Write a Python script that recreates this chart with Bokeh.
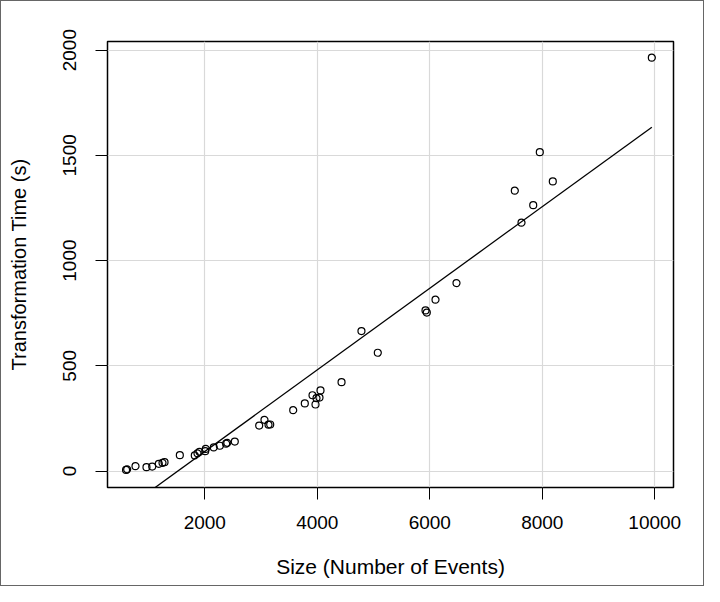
from bokeh.plotting import figure
from bokeh.models import Range1d, FixedTicker
from bokeh.embed import file_html
from bokeh.resources import INLINE
import numpy as np

# Data
size_events = [600, 620, 768, 963, 1065, 1182, 1248, 1284, 1556, 1822, 1870, 1906,
               2007, 2018, 2160, 2267, 2380, 2400, 2533, 2967, 3061, 3133, 3163,
               3572, 3778, 3915, 3986, 4039, 3968, 4057, 4431, 5076, 4785, 5924,
               5947, 6102, 6475, 7631, 7839, 7512, 8187, 7956, 9948]
transform_time = [5, 8, 23, 18, 21, 34, 39, 42, 75, 74, 84, 91,
                  94, 105, 112, 120, 130, 134, 140, 216, 243, 220, 221,
                  289, 321, 360, 346, 349, 316, 383, 422, 562, 665, 763,
                  753, 814, 893, 1180, 1263, 1332, 1376, 1515, 1964]
fit_intercept = -295.0
fit_slope = 0.1939
x_ticks = [2000, 4000, 6000, 8000, 10000]
y_ticks = [0, 500, 1000, 1500, 2000]

FONT = "Liberation Sans"

p = figure(width=704, height=586, output_backend="svg", toolbar_location=None,
           x_range=Range1d(270, 10333), y_range=Range1d(-78.4, 2041),
           min_border_left=106, min_border_right=32, min_border_top=40,
           min_border_bottom=100)
p.styles = {"border": "1px solid #666666"}

p.outline_line_color = "black"
p.outline_line_width = 1.5
p.background_fill_color = "white"
p.border_fill_color = "white"

for ax in (p.xaxis[0], p.yaxis[0]):
    ax.axis_line_color = None
    ax.major_tick_out = 12
    ax.major_tick_in = 0
    ax.major_tick_line_color = "black"
    ax.minor_tick_line_color = None
    ax.major_label_text_font = FONT
    ax.major_label_text_font_size = "19px"
    ax.major_label_text_color = "black"
    ax.axis_label_text_font = FONT
    ax.axis_label_text_font_style = "normal"
    ax.axis_label_text_color = "black"

p.xaxis.ticker = FixedTicker(ticks=x_ticks)
p.yaxis.ticker = FixedTicker(ticks=y_ticks)
p.xaxis.axis_label = "Size (Number of Events)"
p.yaxis.axis_label = "Transformation Time (s)"
p.xaxis.axis_label_text_font_size = "21px"
p.yaxis.axis_label_text_font_size = "20px"
p.xaxis.major_label_standoff = 16
p.xaxis.axis_label_standoff = 23
p.yaxis.major_label_standoff = 19
p.yaxis.major_label_orientation = "vertical"
p.yaxis.axis_label_standoff = 31

p.xgrid.ticker = FixedTicker(ticks=x_ticks)
p.ygrid.ticker = FixedTicker(ticks=y_ticks)
p.grid.grid_line_color = "#d9d9d9"
p.grid.grid_line_width = 1.2

p.scatter(size_events, transform_time, size=7, marker="circle",
          fill_color=None, line_color="black", line_width=1.2)

fx = np.array([min(size_events), max(size_events)], dtype=float)
fy = fit_intercept + fit_slope * fx
p.line(fx, fy, line_color="black", line_width=1.3)

open("out.html", "w").write(file_html(p, INLINE))
